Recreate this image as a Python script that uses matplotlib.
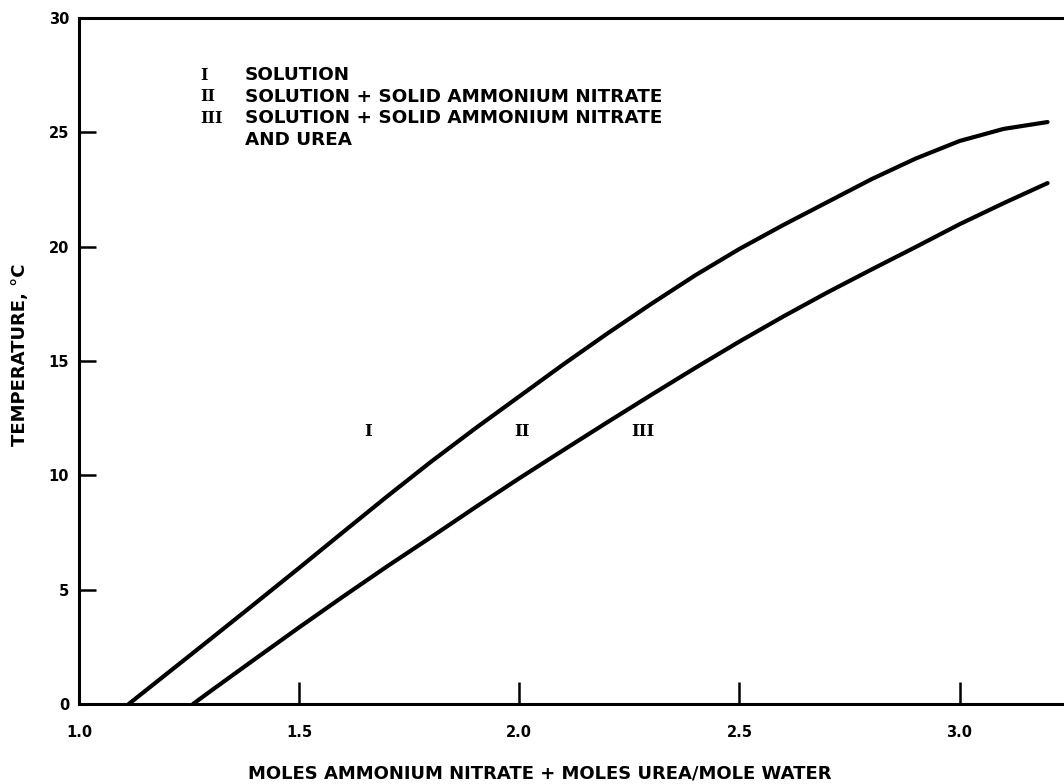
import matplotlib
matplotlib.use("Agg")
import matplotlib.pyplot as plt

# Data
upper_x = [1.113, 1.2, 1.3, 1.4, 1.5, 1.6, 1.7, 1.8, 1.9, 2.0, 2.1, 2.2, 2.3,
           2.4, 2.5, 2.6, 2.7, 2.8, 2.9, 3.0, 3.1, 3.2]
upper_t = [0.0, 1.33, 2.86, 4.4, 5.95, 7.52, 9.08, 10.6, 12.05, 13.45, 14.85, 16.2,
           17.5, 18.75, 19.9, 20.95, 21.95, 22.95, 23.85, 24.62, 25.15, 25.45]
lower_x = [1.259, 1.3, 1.4, 1.5, 1.6, 1.7, 1.8, 1.9, 2.0, 2.1, 2.2, 2.3, 2.4,
           2.5, 2.6, 2.7, 2.8, 2.9, 3.0, 3.1, 3.2]
lower_t = [0.0, 0.58, 1.97, 3.35, 4.7, 6.02, 7.3, 8.6, 9.87, 11.1, 12.32, 13.52,
           14.7, 15.85, 16.95, 18.0, 19.0, 19.98, 20.98, 21.9, 22.78]

xticks = [1.0, 1.5, 2.0, 2.5, 3.0]
xticklabels = ["1.0", "1.5", "2.0", "2.5", "3.0"]
yticks = [0, 5, 10, 15, 20, 25, 30]
yticklabels = ["0", "5", "10", "15", "20", "25", "30"]

region_labels = ["I", "II", "III"]
region_x = [1.656, 2.007, 2.28]
region_t = [11.9, 11.9, 11.9]

legend_nums = ["I", "II", "III", ""]
legend_texts = ["SOLUTION", "SOLUTION + SOLID AMMONIUM NITRATE",
                "SOLUTION + SOLID AMMONIUM NITRATE", "AND UREA"]

fig = plt.figure(figsize=(10.64, 7.84), dpi=100)
ax = fig.add_axes([79/1064, 80/784, 1 - 79/1064, 686/784])
ax.set_xlim(1.0, 1.0 + (1064 - 78) / 440.7)
ax.set_ylim(0, 30)

ax.plot(upper_x, upper_t, color="black", lw=3.0, solid_capstyle="round",
        solid_joinstyle="round")
ax.plot(lower_x, lower_t, color="black", lw=3.0, solid_capstyle="round",
        solid_joinstyle="round")

for s in ["left", "bottom", "top"]:
    ax.spines[s].set_linewidth(2.2)
ax.spines["right"].set_visible(False)

ax.set_xticks(xticks)
ax.set_xticklabels(xticklabels, fontweight="bold", fontsize=10.5)
ax.set_yticks(yticks)
ax.set_yticklabels(yticklabels, fontweight="bold", fontsize=10.5)
ax.tick_params(axis="x", direction="in", length=16, width=1.8, pad=15)
ax.tick_params(axis="y", direction="in", length=12, width=1.8, pad=7)

ax.set_xlabel("MOLES AMMONIUM NITRATE + MOLES UREA/MOLE WATER",
              fontweight="bold", fontsize=13)
ax.xaxis.set_label_coords((540 - 79) / (1064 - 79), -69 / 686)
ax.xaxis.label.set_va("center")
ax.set_ylabel("TEMPERATURE, °C", fontweight="bold", fontsize=13)
ax.yaxis.set_label_coords(-59 / 985, (704 - 355) / 686)
ax.yaxis.label.set_va("center")

for lab, x, t in zip(region_labels, region_x, region_t):
    ax.text(x, t, lab, ha="center", va="center", fontsize=12,
            fontweight="bold", family="DejaVu Serif")

y0 = 75
for i, (n, txt) in enumerate(zip(legend_nums, legend_texts)):
    ypix = y0 + i * 21.7
    fy = 1 - ypix / 784
    fig.text(200 / 1064, fy, n, ha="left", va="center", fontsize=11.5,
             fontweight="bold", family="DejaVu Serif")
    fig.text(245 / 1064, fy, txt, ha="left", va="center", fontsize=13.2,
             fontweight="bold")

fig.savefig("out.png", dpi=100)
